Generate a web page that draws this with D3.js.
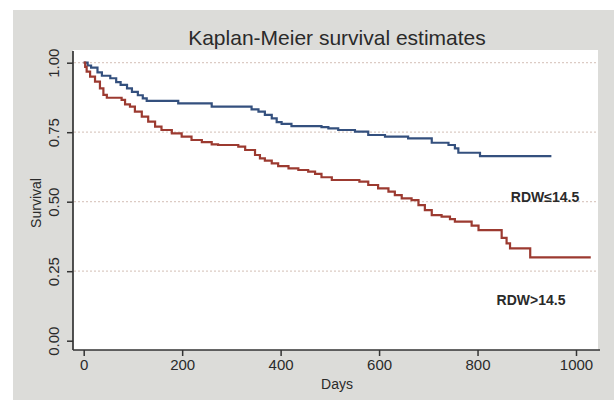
<!DOCTYPE html>
<html>
<head>
<meta charset="utf-8">
<script src="https://cdn.jsdelivr.net/npm/d3@7"></script>
<style>
  body { margin: 0; background: #fff; }
  svg { display: block; font-family: "Liberation Sans", Arial, sans-serif; }
</style>
</head>
<body>
<div id="chart"></div>
<script>
// step points: days and survival
const lowDays = [0, 8, 15, 28, 37, 54, 66, 75, 88, 98, 110, 120, 128, 192, 260, 341, 355, 368, 382, 392, 402, 422, 483, 497, 517, 551, 578, 612, 659, 707, 741, 754, 761, 805, 950];
const lowSurv = [1.00, 0.99, 0.982, 0.965, 0.953, 0.944, 0.93, 0.92, 0.908, 0.895, 0.883, 0.872, 0.863, 0.854, 0.842, 0.832, 0.824, 0.812, 0.80, 0.786, 0.78, 0.772, 0.768, 0.764, 0.758, 0.752, 0.74, 0.734, 0.728, 0.712, 0.704, 0.692, 0.676, 0.664, 0.664];

const highDays = [0, 3, 6, 13, 23, 33, 40, 47, 77, 84, 94, 104, 118, 131, 145, 158, 179, 199, 219, 240, 260, 273, 314, 328, 348, 358, 368, 382, 395, 416, 436, 456, 470, 483, 504, 560, 578, 598, 619, 632, 646, 666, 680, 693, 707, 727, 744, 754, 788, 802, 849, 859, 866, 907, 1030];
const highSurv = [1.00, 0.985, 0.968, 0.95, 0.932, 0.908, 0.884, 0.874, 0.866, 0.85, 0.842, 0.824, 0.806, 0.788, 0.77, 0.758, 0.746, 0.734, 0.722, 0.714, 0.706, 0.704, 0.698, 0.686, 0.668, 0.656, 0.648, 0.638, 0.628, 0.62, 0.614, 0.608, 0.60, 0.588, 0.578, 0.572, 0.56, 0.548, 0.536, 0.524, 0.512, 0.506, 0.488, 0.47, 0.452, 0.446, 0.437, 0.428, 0.414, 0.398, 0.37, 0.35, 0.332, 0.30, 0.30];

const xTicks = [0, 200, 400, 600, 800, 1000];
const yTicks = [0, 0.25, 0.5, 0.75, 1];
const gridValues = [0.25, 0.5, 0.75, 1];

const width = 614, height = 400;

const svg = d3.select('#chart').append('svg')
  .attr('width', width)
  .attr('height', height);

// outer grey panel and white plot region
svg.append('rect').attr('x', 13).attr('y', 10).attr('width', width - 13).attr('height', height - 10)
  .attr('fill', '#dcdcd9');
svg.append('rect').attr('x', 73).attr('y', 50).attr('width', 525).attr('height', 300)
  .attr('fill', '#fff');

const x = d3.scaleLinear().domain([0, 1000]).range([83.7, 576]);
const y = d3.scaleLinear().domain([0, 1]).range([340.7, 62.7]);

// dotted grid
svg.append('g').selectAll('line')
  .data(gridValues)
  .enter()
  .append('line')
  .attr('x1', 74).attr('x2', 597)
  .attr('y1', d => y(d)).attr('y2', d => y(d))
  .attr('stroke', '#dccbc4')
  .attr('stroke-width', 1.2)
  .attr('stroke-dasharray', '2,2');

// axes
const yAxis = svg.append('g')
  .attr('transform', 'translate(73,0)')
  .call(d3.axisLeft(y).tickValues(yTicks).tickFormat(d3.format('.2f')).tickSize(6).tickSizeOuter(0));
yAxis.select('.domain').attr('d', 'M0,51V350').attr('stroke', '#333').attr('stroke-width', 1.7);
yAxis.selectAll('.tick line').attr('stroke', '#333').attr('stroke-width', 1.5);
yAxis.selectAll('.tick text')
  .attr('x', null).attr('dy', null)
  .attr('transform', 'translate(-14,0) rotate(-90)')
  .attr('text-anchor', 'middle')
  .attr('fill', '#2a2a2a')
  .style('font-size', '15px');

const xAxis = svg.append('g')
  .attr('transform', 'translate(0,350)')
  .call(d3.axisBottom(x).tickValues(xTicks).tickFormat(d3.format('d')).tickSize(6).tickSizeOuter(0));
xAxis.select('.domain').attr('d', 'M73,0H600').attr('stroke', '#333').attr('stroke-width', 1.7);
xAxis.selectAll('.tick line').attr('stroke', '#333').attr('stroke-width', 1.5);
xAxis.selectAll('.tick text')
  .attr('y', 9)
  .attr('fill', '#2a2a2a')
  .style('font-size', '15px');
xAxis.selectAll('text').attr('font-family', null);
yAxis.selectAll('text').attr('font-family', null);

// survival step lines
const line = d3.line()
  .x(d => x(d[0]))
  .y(d => y(d[1]))
  .curve(d3.curveStepAfter);

const lowPts = lowDays.map((d, i) => [d, lowSurv[i]]);
const highPts = highDays.map((d, i) => [d, highSurv[i]]);

svg.append('path')
  .attr('d', line(lowPts))
  .attr('fill', 'none')
  .attr('stroke', '#34507e')
  .attr('stroke-width', 2.2);

svg.append('path')
  .attr('d', line(highPts))
  .attr('fill', 'none')
  .attr('stroke', '#9c3a30')
  .attr('stroke-width', 2.2);

// texts
svg.append('text')
  .attr('x', 337).attr('y', 45)
  .attr('text-anchor', 'middle')
  .attr('fill', '#2a2a2a')
  .style('font-size', '21px')
  .text('Kaplan-Meier survival estimates');

svg.append('text')
  .attr('x', 337).attr('y', 389)
  .attr('text-anchor', 'middle')
  .attr('fill', '#2a2a2a')
  .style('font-size', '14px')
  .text('Days');

svg.append('text')
  .attr('transform', 'translate(41,203) rotate(-90)')
  .attr('text-anchor', 'middle')
  .attr('fill', '#2a2a2a')
  .style('font-size', '14px')
  .text('Survival');

svg.append('text')
  .attr('x', 545).attr('y', 202)
  .attr('text-anchor', 'middle')
  .attr('fill', '#2a2a2a')
  .style('font-size', '14px')
  .style('font-weight', 'bold')
  .text('RDW≤14.5');

svg.append('text')
  .attr('x', 531).attr('y', 305)
  .attr('text-anchor', 'middle')
  .attr('fill', '#2a2a2a')
  .style('font-size', '14px')
  .style('font-weight', 'bold')
  .text('RDW>14.5');
</script>
</body>
</html>
